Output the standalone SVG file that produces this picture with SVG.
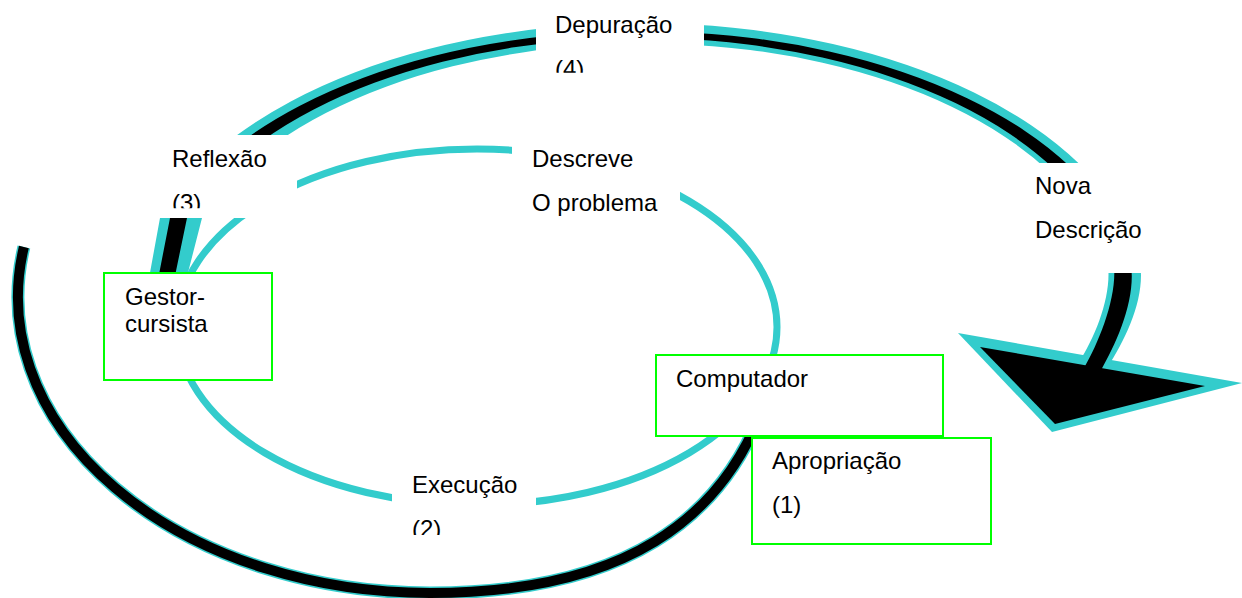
<svg xmlns="http://www.w3.org/2000/svg" width="1242" height="598" viewBox="0 0 1242 598">
<style>
.t{font-family:"Liberation Sans",Arial,sans-serif;font-size:24px;fill:#000}
.cy{fill:#33cccc}
.bk{fill:#000}
.lbl{fill:#fff}
.node{fill:#fff;stroke:#00ff00;stroke-width:2}
</style>
<defs>
<clipPath id="cDep"><rect x="536" y="0" width="168" height="72.7"/></clipPath>
<clipPath id="cRef"><rect x="120" y="135" width="177" height="73.3"/></clipPath>
<clipPath id="cExe"><rect x="392" y="465" width="144" height="70"/></clipPath>
</defs>
<rect width="1242" height="598" fill="#fff"/>
<g id="connectors">
<ellipse cx="477" cy="327" rx="300" ry="178" fill="none" stroke="#33cccc" stroke-width="7"/>
<path d="M23.9,247 A412,296 0 0 0 430,593 C630,593 720,515 760,415" fill="none" stroke="#33cccc" stroke-width="13"/>
<path d="M23.9,247 A412,296 0 0 0 430,593 C630,593 720,515 760,415" fill="none" stroke="#000" stroke-width="10"/>
<path class="cy" d="M145,300 L160,218 A505,280 0 0 1 1137,250 C1150,288 1129,334 1107,368 L1079,362 C1098,332.6 1117,282.5 1104.5,250 A470,262 0 0 0 202,218 L181,300 Z"/>
<polygon class="cy" points="958,333 1242,383 1052,432"/>
<polygon class="bk" points="980,347 1205,386 1055,424"/>
<path class="bk" d="M154,300 L170,218 A496,272 0 0 1 1127.5,250 C1141,287.6 1120,337 1100,372 L1084,368 C1101.5,337.5 1123,283 1110.7,250 A480,267 0 0 0 187,218 L170,300 Z"/>
</g>
<g id="label-depuracao">
<rect class="lbl" x="536" y="0" width="168" height="80"/>
<text class="t" clip-path="url(#cDep)"><tspan x="555" y="33">Depuração</tspan><tspan x="555" y="77">(4)</tspan></text>
</g>
<g id="label-descreve">
<rect class="lbl" x="512" y="135" width="168" height="90"/>
<text class="t"><tspan x="532" y="167">Descreve</tspan><tspan x="532" y="211">O problema</tspan></text>
</g>
<g id="label-reflexao">
<rect class="lbl" x="120" y="135" width="177" height="83"/>
<text class="t" clip-path="url(#cRef)"><tspan x="172" y="167">Reflexão</tspan><tspan x="172" y="211">(3)</tspan></text>
</g>
<g id="label-nova">
<rect class="lbl" x="1020" y="163" width="140" height="110"/>
<text class="t"><tspan x="1035" y="194">Nova</tspan><tspan x="1035" y="238">Descrição</tspan></text>
</g>
<g id="label-execucao">
<rect class="lbl" x="392" y="465" width="144" height="80"/>
<text class="t" clip-path="url(#cExe)"><tspan x="412" y="493">Execução</tspan><tspan x="412" y="537">(2)</tspan></text>
</g>
<g id="node-gestor">
<rect class="node" x="104" y="273" width="168" height="107"/>
<text class="t"><tspan x="125" y="305">Gestor-</tspan><tspan x="125" y="332">cursista</tspan></text>
</g>
<g id="node-computador">
<rect class="node" x="656" y="355" width="287" height="81"/>
<text class="t" x="676" y="387">Computador</text>
</g>
<g id="node-apropriacao">
<rect class="node" x="752" y="438" width="239" height="106"/>
<text class="t"><tspan x="772" y="469">Apropriação</tspan><tspan x="772" y="513">(1)</tspan></text>
</g>
</svg>
